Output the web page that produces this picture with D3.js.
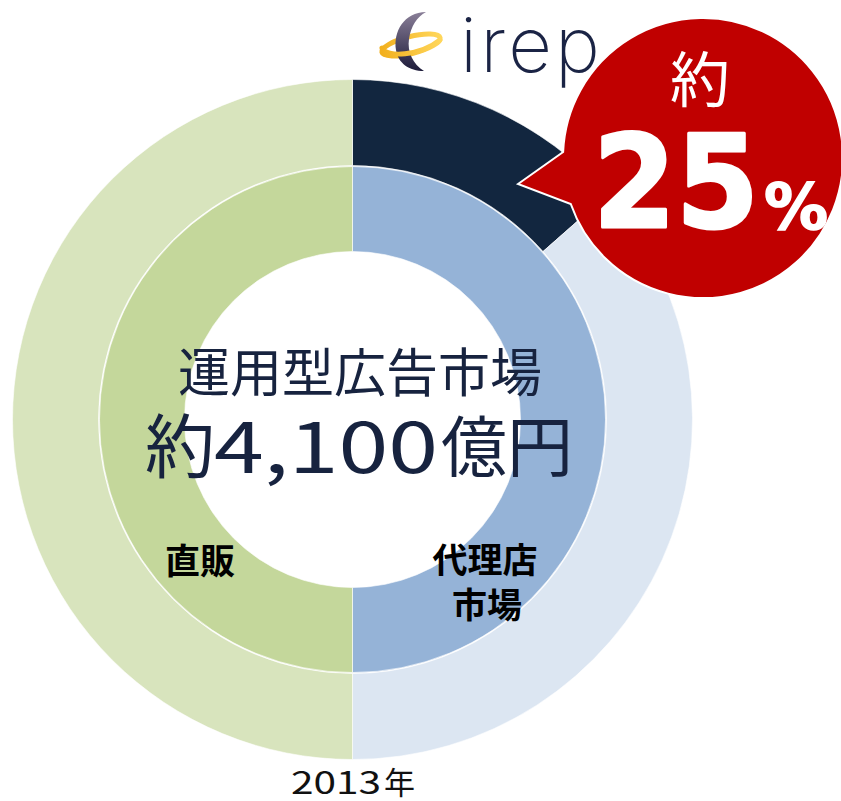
<!DOCTYPE html>
<html><head><meta charset="utf-8">
<script src="https://cdn.jsdelivr.net/npm/d3@7"></script>
<style>
html,body{margin:0;padding:0;background:#fff;}
svg{display:block;}
</style></head>
<body>
<svg id="chart" width="841" height="801"></svg>
<script>
// ---- data ----
const innerCategories = ["代理店市場", "直販"];
const innerValues = [50, 50];
const innerColors = ["#95b3d7", "#c4d79b"];

const outerCategories = ["アイレップ", "その他代理店", "直販"];
const outerValues = [13.5, 36.5, 50];
const outerColors = ["#12263f", "#dce6f2", "#d8e4bd"];

const centerTitle = "運用型広告市場";
const centerValuePrefix = "約";
const centerValue = "4,100";
const centerValueUnit = "億円";
const yearLabel = "2013";
const yearUnit = "年";
const shareLabel = "約";
const shareValue = "25";
const shareUnit = "%";

// ---- layout ----
const svg = d3.select("#chart");
const cx = 352.5, cy = 419.5;
const rOuter = 340, rMid = 254, rInner = 168;
const g = svg.append("g").attr("transform", `translate(${cx},${cy})`);
const pie = d3.pie().sort(null).startAngle(0).endAngle(2 * Math.PI);

const outerArc = d3.arc().innerRadius(rMid).outerRadius(rOuter);
g.selectAll("path.outer").data(pie(outerValues)).join("path")
  .attr("class", "outer")
  .attr("d", outerArc)
  .attr("fill", (d, i) => outerColors[i])
  .attr("stroke", "#fff").attr("stroke-width", 1).attr("stroke-opacity", 0.6);

const innerArc = d3.arc().innerRadius(rInner).outerRadius(rMid - 1);
g.selectAll("path.inner").data(pie(innerValues)).join("path")
  .attr("class", "inner")
  .attr("d", innerArc)
  .attr("fill", (d, i) => innerColors[i])
  .attr("stroke", "#fff").attr("stroke-width", 1).attr("stroke-opacity", 0.6);

// ---- centre text ----
const cjk = "'Noto Sans CJK JP','Noto Sans',sans-serif";
svg.append("text").attr("x", 360).attr("y", 369)
  .attr("text-anchor", "middle").attr("dominant-baseline", "central")
  .attr("font-family", cjk).attr("font-size", 52).attr("fill", "#17233f")
  .text(centerTitle);

const line2 = svg.append("text").attr("y", 442).attr("dominant-baseline", "central")
  .attr("font-family", cjk).attr("font-size", 70).attr("fill", "#17233f");
line2.append("tspan").attr("x", 145).text(centerValuePrefix);
line2.append("tspan").attr("x", 214)
  .attr("textLength", 224).attr("lengthAdjust", "spacingAndGlyphs").text(centerValue);
line2.append("tspan").attr("x", 441).attr("font-size", 66).text(centerValueUnit);

// ---- segment labels ----
const lab = (t, x, y) => svg.append("text").attr("x", x).attr("y", y)
  .attr("text-anchor", "middle").attr("dominant-baseline", "central")
  .attr("font-family", cjk).attr("font-weight", 700).attr("font-size", 35)
  .attr("fill", "#000").text(t);
lab("直販", 200, 558);
lab("代理店", 485, 557);
lab("市場", 487, 602);

// ---- year ----
const yr = svg.append("text").attr("y", 780).attr("dominant-baseline", "central")
  .attr("font-family", cjk).attr("font-size", 31).attr("fill", "#111");
yr.append("tspan").attr("x", 291).attr("textLength", 90)
  .attr("lengthAdjust", "spacingAndGlyphs").text(yearLabel);
yr.append("tspan").attr("x", 384).text(yearUnit);

// ---- logo ----
const defs = svg.append("defs");
const gradC = defs.append("linearGradient").attr("id", "gc").attr("x1", 0).attr("y1", 0).attr("x2", 0).attr("y2", 1);
gradC.append("stop").attr("offset", "0%").attr("stop-color", "#8a7f98");
gradC.append("stop").attr("offset", "100%").attr("stop-color", "#1d1b3a");
const gradG = defs.append("linearGradient").attr("id", "gg").attr("x1", 0).attr("y1", 0).attr("x2", 1).attr("y2", 0);
gradG.append("stop").attr("offset", "0%").attr("stop-color", "#f2b01e");
gradG.append("stop").attr("offset", "100%").attr("stop-color", "#ffd65a");

const logo = svg.append("g");
logo.append("ellipse").attr("cx", 411).attr("cy", 45).attr("rx", 30).attr("ry", 8.5)
  .attr("transform", "rotate(-14 411 45)")
  .attr("fill", "none").attr("stroke", "url(#gg)").attr("stroke-width", 5);
logo.append("path")
  .attr("d", "M426 12 C404 12 393 32 396 50 C398 63 409 71 424 71 C413 64 407 52 409 39 C411 26 417 17 426 12 Z")
  .attr("fill", "url(#gc)");
logo.append("path")
  .attr("d", "M382 48 C386 58 420 56 440 40")
  .attr("fill", "none").attr("stroke", "url(#gg)").attr("stroke-width", 5).attr("stroke-linecap", "round");
svg.append("text").attr("x", 460).attr("y", 72)
  .attr("font-family", "Inter, 'DejaVu Sans', sans-serif").attr("font-weight", 200)
  .attr("font-size", 76).attr("fill", "#1b2445")
  .attr("textLength", 140).attr("lengthAdjust", "spacing")
  .text("irep");

// ---- callout bubble ----
const bcx = 703, bcy = 158, br = 140;
const tip = [518, 184];
const a1 = Math.atan2(152 - bcy, 562 - bcx);
const a2 = Math.atan2(205 - bcy, 568 - bcx);
const p1 = [bcx + br * Math.cos(a1), bcy + br * Math.sin(a1)];
const bubble = d3.path();
bubble.moveTo(tip[0], tip[1]);
bubble.lineTo(p1[0], p1[1]);
bubble.arc(bcx, bcy, br, a1, a2, false);
bubble.closePath();
svg.append("path").attr("d", bubble.toString())
  .attr("fill", "#c00000").attr("stroke", "#fff").attr("stroke-width", 2).attr("stroke-linejoin", "miter");

svg.append("text").attr("x", 700).attr("y", 75)
  .attr("text-anchor", "middle").attr("dominant-baseline", "central")
  .attr("font-family", cjk).attr("font-size", 60).attr("fill", "#fff")
  .text(shareLabel);
svg.append("text").attr("x", 593).attr("y", 227)
  .attr("font-family", "'DejaVu Sans', sans-serif").attr("font-weight", 700)
  .attr("font-size", 128).attr("fill", "#fff")
  .attr("stroke", "#fff").attr("stroke-width", 3).attr("stroke-linejoin", "round")
  .attr("textLength", 166).attr("lengthAdjust", "spacingAndGlyphs")
  .text(shareValue);
svg.append("text").attr("x", 764).attr("y", 229)
  .attr("font-family", "'DejaVu Sans', sans-serif").attr("font-weight", 700)
  .attr("font-size", 64).attr("fill", "#fff")
  .attr("stroke", "#fff").attr("stroke-width", 1.5)
  .text(shareUnit);
</script>
</body></html>
